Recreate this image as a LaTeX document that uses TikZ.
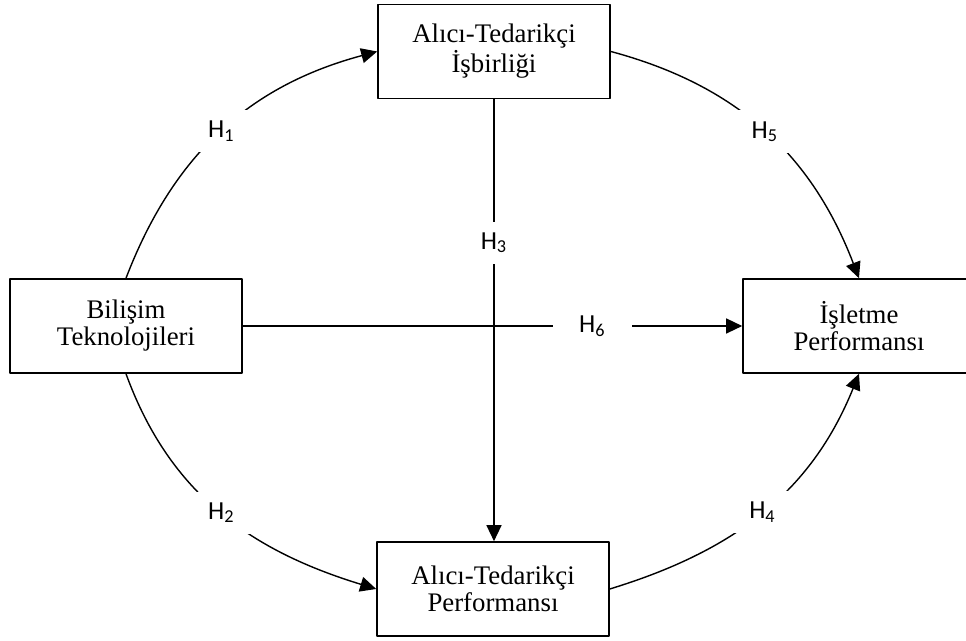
\documentclass[tikz,border=0pt]{standalone}
\usepackage{fontspec}
\setmainfont{Liberation Serif}
\newfontfamily\labfont{Carlito}
\usetikzlibrary{arrows.meta}
\begin{document}
\begin{tikzpicture}[x=.5pt, y=.5pt, line join=round, >={Triangle[length=8pt,width=7.5pt]},
		kutu/.style={draw, line width=.8pt, minimum width=116pt, minimum height=47pt, inner sep=0pt, align=center, font=\fontsize{13.4}{13.5}\selectfont},
		hip/.style={fill=white, inner xsep=13pt, inner ysep=5.5pt, font=\labfont\fontsize{13}{15}\selectfont},
		ok/.style={line width=.7pt}]
		\clip (0,0) rectangle (966,641);
		\node[kutu] (ATI) at (494,589.5) {Alıcı-Tedarikçi\\İşbirliği};
		\node[kutu] (BT) at (126,315) {Bilişim\\Teknolojileri};
		\node[kutu] (IP) at (859,315) {İşletme\\Performansı};
		\node[kutu] (ATP) at (493,52) {Alıcı-Tedarikçi\\Performansı};
		\draw[ok,->] (BT.north) to[out=69,in=195] node[hip] (h1) {H\textsubscript{1}} (ATI.west);
		\draw[ok,->] (BT.south) to[out=-70,in=163] node[hip] (h2) {H\textsubscript{2}} (ATP.west);
		\draw[ok,->] (ATI.south) -- node[hip,pos=.325] (h3) {H\textsubscript{3}} (ATI.south |- ATP.north);
		\draw[ok,->] (ATP.east) to[out=17,in=-112] node[hip] (h4) {H\textsubscript{4}} (IP.south);
		\draw[ok,->] (ATI.east) to[out=-15,in=111] node[hip] (h5) {H\textsubscript{5}} (IP.north);
		\draw[ok,->] (BT.east) -- node[hip,pos=.7] (h6) {H\textsubscript{6}} (IP.west);
\end{tikzpicture}
\end{document}
